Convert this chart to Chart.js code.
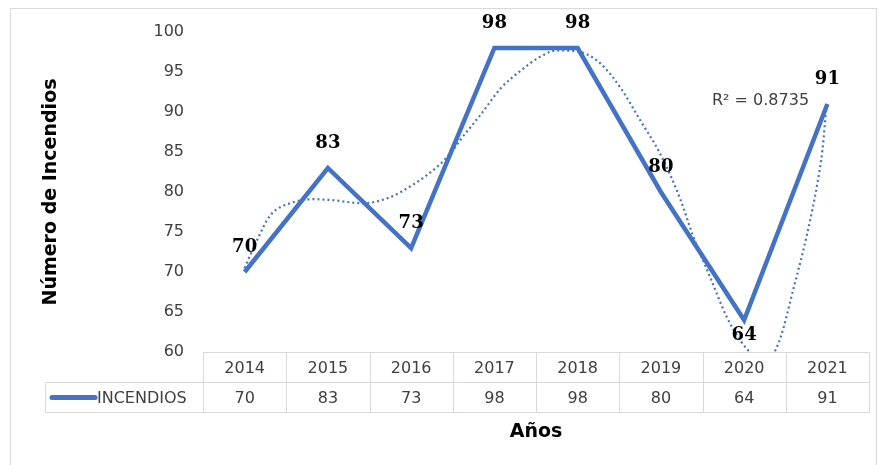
<!DOCTYPE html>
<html lang="es">
<head>
    <meta charset="UTF-8">
    <title>Incendios</title>
    <script src="https://cdn.jsdelivr.net/npm/chart.js@4.4.0/dist/chart.umd.min.js"></script>
    <style>
        body { margin: 0; background: #fff; }
    </style>
</head>
<body>
    <canvas id="chart" width="879" height="465"></canvas>
<script type="text/javascript">
    // datos
    const years = [2014, 2015, 2016, 2017, 2018, 2019, 2020, 2021];
    const incendios = [70, 83, 73, 98, 98, 80, 64, 91];
    // línea de tendencia
    const trendX = [2014.00, 2014.15, 2014.31, 2014.55, 2014.82, 2015.03, 2015.42, 2015.71, 2016.02, 2016.35,
        2016.50, 2016.59, 2016.83, 2017.08, 2017.32, 2017.55, 2017.75, 2018.03, 2018.27, 2018.51,
        2018.75, 2018.99, 2019.23, 2019.39, 2019.59, 2019.79, 2019.95, 2020.11, 2020.22, 2020.34,
        2020.44, 2020.59, 2020.76, 2020.88, 2020.94, 2020.99];
    const trendY = [70.5, 74.0, 77.1, 78.6, 79.1, 79.0, 78.6, 79.2, 80.9, 83.5,
        85.2, 86.5, 89.6, 93.0, 95.2, 96.9, 97.7, 97.5, 96.1, 93.1,
        89.0, 84.8, 79.2, 74.4, 69.4, 64.4, 61.5, 59.6, 59.0, 59.6,
        61.9, 67.8, 74.9, 81.1, 85.2, 91.0];
    const r2Text = 'R² = 0.8735';
    const labelPos = ['top', 'top', 'top', 'top', 'top', 'top', 'bottom', 'top'];

    const blue = '#4472C4';
    const textGray = '#404040';
    const lineGray = '#d9d9d9';
    const sans = '"DejaVu Sans", Verdana, sans-serif';

    const tablePlugin = {
        id: 'excelTable',
        afterDraw: (chart) => {
            const {ctx, chartArea} = chart;
            const xs = chart.scales.x;
            const ys = chart.scales.y;
            ctx.save();

            // marco
            ctx.strokeStyle = lineGray;
            ctx.lineWidth = 1;
            ctx.strokeRect(10.5, 8.5, 866, 470);

            // tabla de datos
            const top = chartArea.bottom + 0.5;
            const mid = top + 30;
            const bot = mid + 30;
            const left = Math.round(xs.getPixelForValue(years[0] - 0.5)) + 0.5;
            const right = Math.round(xs.getPixelForValue(years[years.length - 1] + 0.5)) + 0.5;
            const legLeft = 45.5;
            ctx.beginPath();
            ctx.moveTo(left, top); ctx.lineTo(right, top);
            ctx.moveTo(legLeft, mid); ctx.lineTo(right, mid);
            ctx.moveTo(legLeft, bot); ctx.lineTo(right, bot);
            ctx.moveTo(legLeft, mid); ctx.lineTo(legLeft, bot);
            years.forEach((yr) => {
                const xl = Math.round(xs.getPixelForValue(yr - 0.5)) + 0.5;
                ctx.moveTo(xl, top); ctx.lineTo(xl, bot);
            });
            ctx.moveTo(right, top); ctx.lineTo(right, bot);
            ctx.stroke();

            ctx.font = '16px ' + sans;
            ctx.fillStyle = textGray;
            ctx.textAlign = 'center';
            ctx.textBaseline = 'middle';
            years.forEach((yr, i) => {
                const xc = xs.getPixelForValue(yr);
                ctx.fillText(String(yr), xc, (top + mid) / 2 + 1);
                ctx.fillText(String(incendios[i]), xc, (mid + bot) / 2 + 1);
            });

            // leyenda
            ctx.strokeStyle = blue;
            ctx.lineWidth = 5;
            ctx.lineCap = 'round';
            ctx.beginPath();
            ctx.moveTo(52, (mid + bot) / 2);
            ctx.lineTo(95, (mid + bot) / 2);
            ctx.stroke();
            ctx.textAlign = 'left';
            ctx.fillText('INCENDIOS', 97, (mid + bot) / 2 + 1);

            // etiquetas de datos
            const meta = chart.getDatasetMeta(0);
            ctx.font = 'bold 18px "DejaVu Serif", serif';
            ctx.fillStyle = '#000';
            ctx.textAlign = 'center';
            meta.data.forEach((pt, i) => {
                const dy = labelPos[i] === 'bottom' ? 15 : -25;
                ctx.fillText(String(incendios[i]), pt.x, pt.y + dy);
            });

            // R²
            ctx.font = '16px ' + sans;
            ctx.fillStyle = textGray;
            ctx.textAlign = 'right';
            ctx.fillText(r2Text, xs.getPixelForValue(2020.78), ys.getPixelForValue(91.4));
            ctx.restore();
        }
    };

    const config = {
        type: 'line',
        data: {
            datasets: [
                {
                    label: 'INCENDIOS',
                    data: years.map((yr, i) => ({x: yr, y: incendios[i]})),
                    borderColor: blue,
                    borderWidth: 4.5,
                    pointRadius: 0,
                    tension: 0,
                    borderJoinStyle: 'miter',
                    order: 0
                },
                {
                    label: 'Tendencia',
                    data: trendX.map((x, i) => ({x: x, y: trendY[i]})),
                    borderColor: blue,
                    borderWidth: 2.2,
                    borderDash: [2, 3],
                    pointRadius: 0,
                    cubicInterpolationMode: 'monotone',
                    order: 1
                }
            ]
        },
        options: {
            responsive: false,
            animation: false,
            layout: { padding: { left: 40, top: 32, right: 10, bottom: 0 } },
            scales: {
                x: {
                    type: 'linear',
                    min: 2013.5,
                    max: 2021.5,
                    ticks: { display: false },
                    grid: { display: false },
                    border: { display: false },
                    title: {
                        display: true,
                        text: 'Años',
                        color: '#000',
                        font: { family: sans, size: 19, weight: 'bold' },
                        padding: { top: 0, bottom: 22 }
                    },
                    afterFit: (scale) => { scale.height = 113; }
                },
                y: {
                    min: 60,
                    max: 100,
                    ticks: {
                        stepSize: 5,
                        padding: 11,
                        color: textGray,
                        font: { family: sans, size: 16 }
                    },
                    grid: { display: false },
                    border: { display: false },
                    title: {
                        display: true,
                        text: 'Número de Incendios',
                        color: '#000',
                        font: { family: sans, size: 19, weight: 'bold' },
                        padding: { top: 0, bottom: 0 }
                    },
                    afterFit: (scale) => { scale.width = 163; }
                }
            },
            plugins: {
                legend: { display: false },
                tooltip: { enabled: false }
            }
        },
        plugins: [tablePlugin]
    };

    const chart = new Chart(document.getElementById('chart'), config);
</script>
</body>
</html>
